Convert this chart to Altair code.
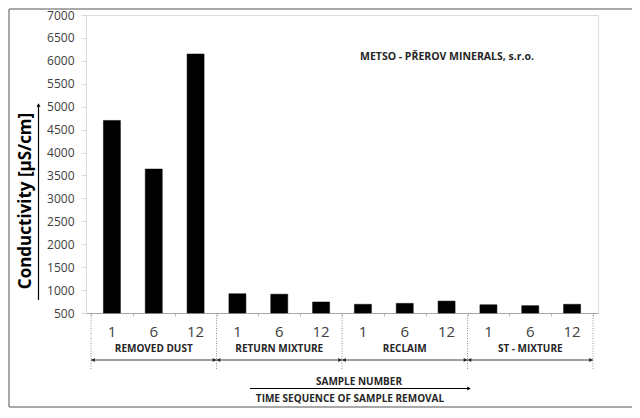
import altair as alt
import pandas as pd

# ---- data ----
groups = ["REMOVED DUST", "RETURN MIXTURE", "RECLAIM", "ST - MIXTURE"]
samples = ["1", "6", "12"]
values = [4700, 3640, 6150, 920, 910, 740, 690, 710, 760, 680, 660, 690]
y_ticks = list(range(500, 7001, 500))

# ---- layout constants (px) ----
W, H = 512, 298
OX, OY = 86, 15  # plot origin in page px
PAGE_BOTTOM = 408  # keep the svg short enough that no scrollbar appears

rows = []
for gi, g in enumerate(groups):
    for si, s in enumerate(samples):
        idx = gi * 3 + si
        rows.append({"pos": idx + 0.5, "value": values[idx], "sample": s, "group": g})
df = pd.DataFrame(rows)
gdf = pd.DataFrame({"group": groups, "center": [i * 3 + 1.5 for i in range(len(groups))],
                    "start": [i * 3 for i in range(len(groups))],
                    "end": [i * 3 + 3 for i in range(len(groups))]})
bounds = pd.DataFrame({"b": [0, 3, 6, 9, 12]})

xs = alt.Scale(domain=[0, 12], nice=False, zero=False)
ys = alt.Scale(domain=[500, 7000], nice=False, zero=False)

FONT = "Open Sans"

bars = alt.Chart(df).mark_bar(color="black", size=17, stroke="black", strokeWidth=0.5).encode(
    x=alt.X("pos:Q", scale=xs, axis=alt.Axis(values=list(range(13)), labels=False, title=None,
                                              tickSize=3, tickColor="#c0c0c0", domainColor="#a6a6a6",
                                              grid=False)),
    y=alt.Y("value:Q", scale=ys, axis=alt.Axis(values=y_ticks, title=None, labelFont=FONT,
                                                labelFontSize=12, labelColor="#404040", format="d",
                                                labelPadding=7, tickSize=5, tickColor="#d9d9d9",
                                                domainColor="#d9d9d9", grid=False)),
    y2=alt.datum(500),
)

sample_txt = alt.Chart(df).mark_text(font=FONT, fontSize=15, color="#404040", baseline="middle").encode(
    x=alt.X("pos:Q", scale=xs), y=alt.value(332 - OY), text="sample:N")

group_txt = alt.Chart(gdf).mark_text(font=FONT, fontSize=10, fontWeight="bold", color="#262626",
                                     baseline="middle").encode(
    x=alt.X("center:Q", scale=xs), y=alt.value(349 - OY), text="group:N")

vlines = alt.Chart(bounds).mark_rule(color="#909090", strokeDash=[1, 1.5], strokeWidth=1).encode(
    x=alt.X("b:Q", scale=xs), y=alt.value(H), y2=alt.value(370 - OY))

arrows = alt.Chart(gdf).mark_rule(color="#404040", strokeWidth=1).encode(
    x=alt.X("start:Q", scale=xs), x2="end:Q", y=alt.value(360 - OY))
head_r = alt.Chart(gdf).mark_point(shape="triangle-right", filled=True, color="#262626", size=18,
                                   opacity=1, xOffset=-2).encode(
    x=alt.X("end:Q", scale=xs), y=alt.value(360 - OY))
head_l = alt.Chart(gdf).mark_point(shape="triangle-left", filled=True, color="#262626", size=18,
                                   opacity=1, xOffset=2).encode(
    x=alt.X("start:Q", scale=xs), y=alt.value(360 - OY))

one = pd.DataFrame({"k": [0]})

ytitle = alt.Chart(one).mark_text(text="Conductivity [µS/cm]", font=FONT, fontSize=17,
                                  fontWeight="bold", angle=270, color="black",
                                  baseline="middle").encode(
    x=alt.value(26 - OX), y=alt.value(201 - OY))
yarrow = alt.Chart(one).mark_rule(color="black", strokeWidth=1.2).encode(
    x=alt.value(38.5 - OX), y=alt.value(300 - OY), y2=alt.value(106 - OY))
yhead = alt.Chart(one).mark_point(shape="triangle-up", filled=True, color="black", size=16,
                                  opacity=1).encode(x=alt.value(38.5 - OX), y=alt.value(105 - OY))

company = alt.Chart(one).mark_text(text="METSO - PŘEROV MINERALS, s.r.o.", font=FONT, fontSize=10.5,
                                   fontWeight="bold", color="#262626").encode(
    x=alt.value(447 - OX), y=alt.value(57 - OY))

sn = alt.Chart(one).mark_text(text="SAMPLE NUMBER", font=FONT, fontSize=10, fontWeight="bold",
                              color="#262626").encode(x=alt.value(359 - OX), y=alt.value(382 - OY))
tsq = alt.Chart(one).mark_text(text="TIME SEQUENCE OF SAMPLE REMOVAL", font=FONT, fontSize=10,
                               fontWeight="bold", color="#262626").encode(
    x=alt.value(350 - OX), y=alt.value(399 - OY))
sarrow = alt.Chart(one).mark_rule(color="black", strokeWidth=1.2).encode(
    x=alt.value(250 - OX), x2=alt.value(468 - OX), y=alt.value(388.5 - OY))
shead = alt.Chart(one).mark_point(shape="triangle-right", filled=True, color="black", size=16,
                                  opacity=1).encode(x=alt.value(469 - OX), y=alt.value(388.5 - OY))

# frame: left, top and bottom edges only (right edge lies outside the picture)
RIGHT_END = 640
bleft = alt.Chart(one).mark_rule(color="#8c8c8c", strokeWidth=1.5).encode(
    x=alt.value(9 - OX), y=alt.value(9 - OY), y2=alt.value(PAGE_BOTTOM - 1 - OY))
btop = alt.Chart(one).mark_rule(color="#8c8c8c", strokeWidth=1.5).encode(
    x=alt.value(9 - OX), x2=alt.value(RIGHT_END - OX), y=alt.value(9 - OY))
bbot = alt.Chart(one).mark_rule(color="#8c8c8c", strokeWidth=1.5).encode(
    x=alt.value(9 - OX), x2=alt.value(RIGHT_END - OX), y=alt.value(PAGE_BOTTOM - 1 - OY))

chart = alt.layer(bleft, btop, bbot, vlines, bars, sample_txt, group_txt, arrows, head_r, head_l,
                  ytitle, yarrow, yhead, company, sn, tsq, sarrow, shead).properties(
    width=W, height=H,
    autosize=alt.AutoSizeParams(type="none"),
    padding={"left": OX - 8, "top": OY - 8, "right": 640 - OX - W - 8,
             "bottom": PAGE_BOTTOM - OY - H},
).configure_view(stroke=None).configure(background="white")

chart.save("out.html", embed_options={"renderer": "svg", "actions": False})
